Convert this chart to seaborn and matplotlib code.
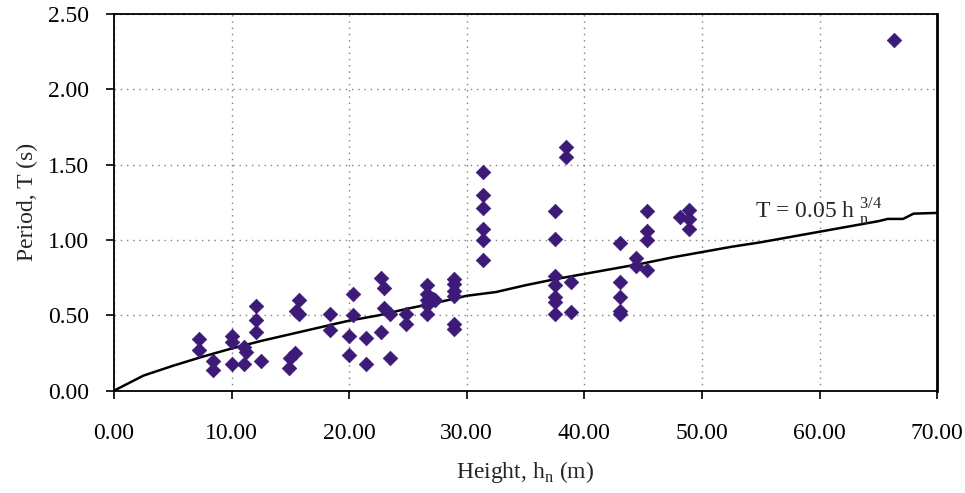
import matplotlib
matplotlib.use("Agg")
import matplotlib.pyplot as plt
import seaborn as sns
import pandas as pd
from matplotlib.ticker import FormatStrFormatter

# Measured buildings: height (m) and period (s)
heights = [7.2, 7.2, 8.4, 8.4, 10.0, 10.0, 10.0, 11.1, 11.2, 11.1,
           12.1, 12.1, 12.1, 12.5, 15.0, 15.4, 14.9, 15.7, 15.5, 15.7,
           18.4, 18.4, 20.3, 20.3, 20.0, 20.0, 21.4, 21.4, 22.7, 23.0,
           23.0, 23.5, 22.7, 23.5, 24.8, 24.8, 26.6, 26.6, 26.6, 27.1,
           27.3, 26.6, 26.6, 28.9, 28.9, 28.9, 28.9, 28.9, 28.9,
           31.4, 31.4, 31.4, 31.4, 31.4, 31.4,
           37.5, 37.5, 37.5, 37.5, 38.9, 37.5, 37.5, 37.5, 38.9,
           38.4, 38.4, 45.3, 48.1, 48.9, 48.9, 48.9, 45.3, 45.3,
           43.0, 44.4, 44.4, 45.3, 43.0, 43.0, 43.0, 43.0, 66.3]
periods = [0.34, 0.27, 0.20, 0.14, 0.36, 0.32, 0.18, 0.29, 0.26, 0.18,
           0.56, 0.47, 0.39, 0.20, 0.22, 0.25, 0.15, 0.60, 0.53, 0.51,
           0.51, 0.40, 0.64, 0.50, 0.36, 0.24, 0.35, 0.18, 0.75, 0.68,
           0.55, 0.51, 0.39, 0.22, 0.51, 0.44, 0.70, 0.64, 0.60, 0.61,
           0.60, 0.51, 0.57, 0.74, 0.71, 0.66, 0.63, 0.44, 0.41,
           1.45, 1.30, 1.21, 1.07, 1.00, 0.87,
           1.19, 1.01, 0.76, 0.70, 0.72, 0.62, 0.59, 0.51, 0.52,
           1.62, 1.55, 1.19, 1.15, 1.20, 1.14, 1.07, 1.06, 1.00,
           0.98, 0.88, 0.83, 0.80, 0.72, 0.62, 0.53, 0.51, 2.33]

# Code formula curve T = 0.05 h^(3/4)
curve_h = [0, 2.5, 5, 7.5, 10, 12.5, 15, 17.5, 20, 22.5, 25, 27.5, 30,
           32.5, 35, 37.5, 40, 42.5, 45, 47.5, 50, 52.5, 55, 57.5, 60,
           62.5, 65, 65.8, 67.1, 68.0, 70]
curve_t = [0, 0.10, 0.165, 0.225, 0.28, 0.33, 0.375, 0.42, 0.465, 0.50,
           0.545, 0.585, 0.63, 0.655, 0.70, 0.74, 0.775, 0.81, 0.845,
           0.885, 0.92, 0.955, 0.985, 1.02, 1.055, 1.09, 1.125, 1.14,
           1.14, 1.175, 1.18]

x_ticks = [0, 10, 20, 30, 40, 50, 60, 70]
y_ticks = [0, 0.5, 1.0, 1.5, 2.0, 2.5]

sns.set_theme(style="white")
plt.rcParams['font.family'] = ['Liberation Serif', 'DejaVu Serif']
plt.rcParams['mathtext.fontset'] = 'custom'
plt.rcParams['mathtext.rm'] = 'Liberation Serif'

pts = pd.DataFrame({"h": heights, "T": periods})
crv = pd.DataFrame({"h": curve_h, "T": curve_t})

fig = plt.figure(figsize=(9.65, 4.93), dpi=100)
ax = fig.add_axes([0.1181, 0.2075, 0.853, 0.7641])

sns.lineplot(data=crv, x="h", y="T", ax=ax, color="black", linewidth=1.8,
             sort=False, zorder=2)
sns.scatterplot(data=pts, x="h", y="T", ax=ax, marker="D", s=55,
                color="#3D1A78", edgecolor="#3D1A78", linewidth=0.5, zorder=3)

ax.set_xlim(0, 70)
ax.set_ylim(0, 2.5)
ax.set_xticks(x_ticks)
ax.set_yticks(y_ticks)
ax.xaxis.set_major_formatter(FormatStrFormatter('%.2f'))
ax.yaxis.set_major_formatter(FormatStrFormatter('%.2f'))
ax.grid(True, color="#808080", linestyle=(0, (1, 3.5)), linewidth=1.0)
ax.tick_params(axis='both', direction='out', length=6, width=1.2,
               colors='black', labelsize=17, bottom=True, left=True)
ax.tick_params(axis='x', pad=17)
ax.tick_params(axis='y', pad=12)
for sp in ax.spines.values():
    sp.set_color('black')
    sp.set_linewidth(1.3)
ax.spines['right'].set_linewidth(2.0)

ax.set_xlabel(r'Height, h$_{\rm n}$ (m)', fontsize=17, labelpad=11)
ax.set_ylabel('Period, T (s)', fontsize=17, labelpad=7)

ax.text(54.5, 1.14, r'T = 0.05 h$_{\rm \ n}^{\rm \ 3/4}$', fontsize=17,
        ha='left', va='baseline')

fig.savefig("out.png", dpi=100)
